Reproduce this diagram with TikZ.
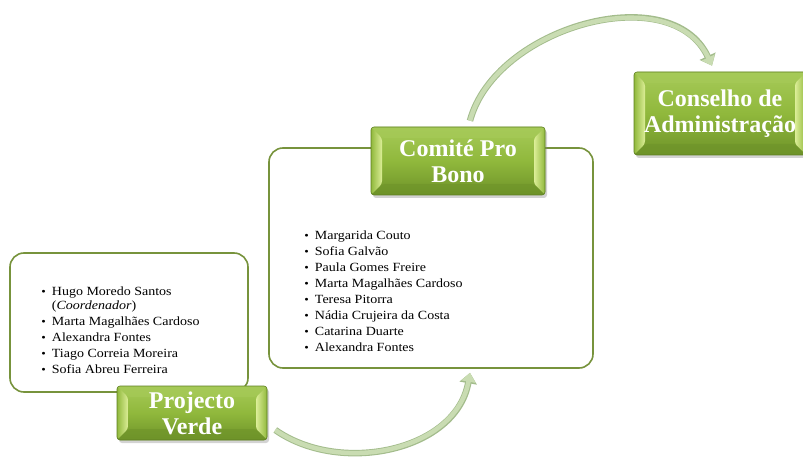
\documentclass[tikz,border=0pt]{standalone}
\usepackage{fontspec}
\setmainfont{Liberation Serif}
\newfontfamily\listfont[FakeStretch=1.12]{Liberation Serif}
\usepackage{tikz}
\usetikzlibrary{arrows.meta, positioning, calc, shadows}

\definecolor{caixaborda}{HTML}{77933C}
\definecolor{verdetopo}{HTML}{A6CA58}
\definecolor{verdemeio}{HTML}{90B83C}
\definecolor{verdebase}{HTML}{6E9329}
\definecolor{verdeborda}{HTML}{5E7F22}
\definecolor{bisel}{HTML}{DCEE97}
\definecolor{setafundo}{HTML}{C9DCB2}
\definecolor{setaborda}{HTML}{A3BC8C}

\newcommand{\marca}{{\fontsize{11.5}{11.5}\selectfont\textbullet}}

\tikzset{
  caixa/.style={rectangle, rounded corners=14pt, draw=caixaborda, line width=1.6pt,
                fill=white, inner sep=0pt},
  titulo/.style={rectangle, rounded corners=3pt, draw=verdeborda, line width=0.6pt,
                 top color=verdetopo, bottom color=verdebase, middle color=verdemeio,
                 text=white, align=center, inner sep=0pt,
                 font=\bfseries\fontsize{24}{26}\selectfont,
                 drop shadow={opacity=0.35, shadow xshift=2pt, shadow yshift=-3pt},
                 path picture={
                   \coordinate (bnw) at (path picture bounding box.north west);
                   \coordinate (bne) at (path picture bounding box.north east);
                   \coordinate (bsw) at (path picture bounding box.south west);
                   \coordinate (bse) at (path picture bounding box.south east);
                   \shade[left color=verdemeio, right color=bisel]
                     (bnw) -- ([shift={(11pt,-11pt)}]bnw) -- ([shift={(11pt,11pt)}]bsw) -- (bsw) -- cycle;
                   \shade[right color=verdemeio, left color=bisel]
                     (bne) -- ([shift={(-11pt,-11pt)}]bne) -- ([shift={(-11pt,11pt)}]bse) -- (bse) -- cycle;
                   \fill[verdetopo, opacity=0.6]
                     (bnw) -- ([shift={(11pt,-11pt)}]bnw) -- ([shift={(-11pt,-11pt)}]bne) -- (bne) -- cycle;
                   \fill[verdebase, opacity=0.6]
                     (bsw) -- ([shift={(11pt,11pt)}]bsw) -- ([shift={(-11pt,11pt)}]bse) -- (bse) -- cycle;
                 }},
  lista/.style={anchor=base west, inner sep=0pt, font=\listfont\fontsize{12.5}{16}\selectfont},
  seta/.style={draw=setafundo, line width=4.5pt,
               -{Triangle[length=9pt, width=14pt]},
               preaction={draw=setaborda, line width=6.5pt, -{Triangle[length=10.5pt, width=17pt]}}}
}

\begin{document}
\begin{tikzpicture}[x=1pt, y=1pt]
  \useasboundingbox (0,0) rectangle (803,-462);

  % Projecto Verde
  \node[caixa, minimum width=238pt, minimum height=139pt] (pvcaixa) at (129,-322.5) {};
  \node[lista] (pvlista) at ([xshift=32pt, yshift=-43pt]pvcaixa.north west) {%
    \begin{tabular}[t]{@{}l@{\hspace{6pt}}l@{}}
      \marca & Hugo Moredo Santos\\[-2pt]
             & (\textit{Coordenador})\\
      \marca & Marta Magalhães Cardoso\\
      \marca & Alexandra Fontes\\
      \marca & Tiago Correia Moreira\\
      \marca & Sofia Abreu Ferreira
    \end{tabular}};
  \node[titulo, minimum width=150pt, minimum height=54pt] (pv) at (192,-413) {Projecto\\Verde};

  % Comite Pro Bono
  \node[caixa, minimum width=324pt, minimum height=220pt] (cpbcaixa) at (431,-258) {};
  \node[lista] (cpblista) at ([xshift=36pt, yshift=-92pt]cpbcaixa.north west) {%
    \begin{tabular}[t]{@{}l@{\hspace{6pt}}l@{}}
      \marca & Margarida Couto\\
      \marca & Sofia Galvão\\
      \marca & Paula Gomes Freire\\
      \marca & Marta Magalhães Cardoso\\
      \marca & Teresa Pitorra\\
      \marca & Nádia Crujeira da Costa\\
      \marca & Catarina Duarte\\
      \marca & Alexandra Fontes
    \end{tabular}};
  \node[titulo, minimum width=174pt, minimum height=68pt] (cpb) at (458,-161) {Comité Pro\\Bono};

  % Conselho de Administracao
  \node[titulo, minimum width=172pt, minimum height=83pt] (cda) at (720,-113.5) {Conselho de\\Administração};

  % setas
  \coordinate (s1a) at ([xshift=8pt, yshift=-17pt]pv.east);
  \coordinate (s1b) at ([xshift=39pt, yshift=-4pt]cpbcaixa.south);
  \coordinate (s2a) at ([xshift=12pt, yshift=6pt]cpb.north);
  \coordinate (s2b) at ([xshift=-8pt, yshift=6pt]cda.north);
  \draw[seta] (s1a) to[out=-35, in=-100] (s1b);
  \draw[seta] (s2a) to[out=75, in=115] (s2b);
\end{tikzpicture}
\end{document}
